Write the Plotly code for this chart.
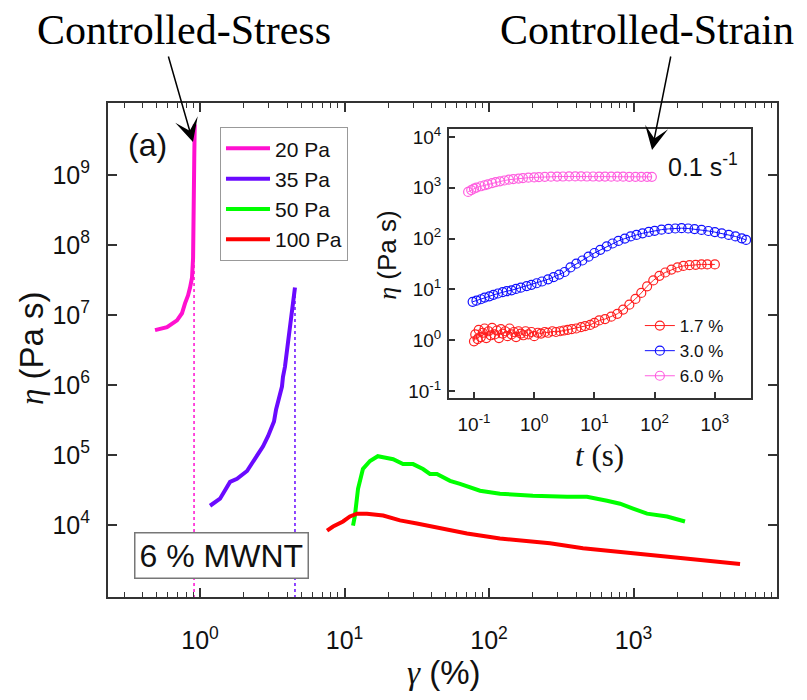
import plotly.graph_objects as go

# ---------------- main panel data (controlled stress) ----------------
strain_20 = [0.488, 0.591, 0.693, 0.750, 0.787, 0.826, 0.853, 0.880, 0.895, 0.897, 0.905, 0.912, 0.918, 0.920]
eta_20 = [6.07e6, 6.7e6, 8.4e6, 1.06e7, 1.47e7, 1.9e7, 2.47e7, 3.42e7, 6.57e7, 2.0e8, 5.85e8, 1.72e9, 4.57e9, 5.3e9]

strain_35 = [1.173, 1.375, 1.613, 1.803, 2.115, 2.48, 2.73, 2.955, 3.15, 3.25, 3.36, 3.47, 3.69, 3.75, 3.87, 4.06, 4.20, 4.33, 4.40, 4.54]
eta_35 = [1.88e4, 2.37e4, 4.12e4, 4.55e4, 5.9e4, 9.6e4, 1.33e5, 1.85e5, 2.56e5, 3.0e5, 4.47e5, 5.6e5, 9.5e5, 1.31e6, 1.82e6, 4.0e6, 6.7e6, 1.17e7, 1.62e7, 2.47e7]

strain_50 = [11.45, 11.8, 12.4, 13.4, 15.0, 17.0, 18.5, 21.7, 25.4, 29.8, 34.9, 39.0, 43.6, 53.7, 63, 86.6, 119, 201, 347, 476, 656, 807, 993, 1240, 1706, 2271]
eta_50 = [9.8e3, 1.36e4, 3.29e4, 6.3e4, 8.2e4, 9.6e4, 9.3e4, 8.7e4, 7.4e4, 7.4e4, 6.3e4, 5.36e4, 5.36e4, 4.27e4, 3.87e4, 3.08e4, 2.79e4, 2.61e4, 2.53e4, 2.53e4, 2.22e4, 2.01e4, 1.71e4, 1.45e4, 1.32e4, 1.12e4]

strain_100 = [7.57, 8.33, 9.76, 10.9, 12.2, 14.3, 18.5, 24.2, 31.7, 41, 53.7, 70.4, 119, 264, 447, 687, 993, 2200, 3785, 5460]
eta_100 = [8.3e3, 9.5e3, 1.12e4, 1.32e4, 1.45e4, 1.45e4, 1.36e4, 1.16e4, 1.05e4, 9.5e3, 8.3e3, 7.55e3, 6.4e3, 5.46e3, 4.63e3, 4.2e3, 3.94e3, 3.34e3, 3.03e3, 2.76e3]

critical_strain = [0.909, 4.54]          # dotted verticals (20 Pa, 35 Pa)
critical_top = [5.3e9, 2.47e7]
axis_floor = 9.0e2

series_names = ["20 Pa", "35 Pa", "50 Pa", "100 Pa"]
series_colors = ["#ff10d0", "#6a0aff", "#00ff00", "#ff0000"]

# ---------------- inset data (controlled strain, 0.1 s^-1) ----------------
t_17 = [0.10, 0.105, 0.115, 0.12, 0.13, 0.14, 0.15, 0.16, 0.175, 0.19, 0.2, 0.22, 0.24, 0.26, 0.28, 0.3, 0.33, 0.36, 0.39, 0.42, 0.46, 0.5, 0.55, 0.6, 0.66, 0.72, 0.8, 0.9, 1.0, 1.15, 1.3, 1.5, 1.7, 2.0, 2.3, 2.7, 3.1, 3.6, 4.2, 5, 6, 7, 8.5, 10, 12, 15, 19, 24, 30, 38, 48, 60, 75, 95, 120, 150, 190, 240, 300, 380, 480, 600, 750, 1000]
eta_17 = [0.95, 1.3, 1.05, 1.6, 1.15, 1.4, 1.7, 1.1, 1.5, 1.25, 1.75, 1.3, 1.55, 1.1, 1.65, 1.35, 1.5, 1.2, 1.7, 1.3, 1.45, 1.15, 1.5, 1.35, 1.25, 1.5, 1.3, 1.45, 1.2, 1.4, 1.35, 1.45, 1.4, 1.5, 1.45, 1.5, 1.55, 1.6, 1.65, 1.7, 1.8, 1.9, 2.0, 2.2, 2.45, 2.6, 2.9, 3.3, 4.0, 5.0, 6.5, 8.5, 11.5, 15, 18.5, 21.5, 24.5, 27, 29, 30, 30.5, 31, 31, 31]

t_30 = [0.095, 0.11, 0.13, 0.15, 0.18, 0.21, 0.25, 0.3, 0.35, 0.42, 0.5, 0.6, 0.75, 0.9, 1.1, 1.35, 1.7, 2.1, 2.6, 3.2, 4, 5, 6.3, 8, 10, 12.5, 16, 20, 25, 32, 40, 50, 63, 80, 100, 130, 170, 220, 280, 360, 460, 600, 780, 1000, 1300, 1700, 2200, 2800, 3300]
eta_30 = [5.7, 6.0, 6.4, 6.9, 7.3, 7.8, 8.3, 8.8, 9.2, 9.6, 10.2, 10.8, 11.6, 12.3, 13.2, 14.3, 15.8, 17.5, 19.6, 22, 27, 32, 37, 44, 52, 60, 70, 80, 90, 100, 110, 118, 127, 135, 142, 150, 155, 158, 160, 158, 154, 148, 141, 134, 126, 118, 110, 101, 94]

t_60 = [0.08, 0.09, 0.10, 0.11, 0.13, 0.15, 0.17, 0.2, 0.23, 0.27, 0.32, 0.38, 0.45, 0.55, 0.65, 0.8, 1.0, 1.2, 1.5, 1.9, 2.4, 3.0, 3.8, 4.8, 6, 7.5, 9.5, 12, 15, 19, 24, 30, 38, 48, 60, 75, 90]
eta_60 = [830, 900, 960, 1010, 1070, 1120, 1170, 1230, 1290, 1340, 1390, 1440, 1480, 1520, 1550, 1580, 1600, 1620, 1640, 1650, 1660, 1665, 1670, 1670, 1670, 1665, 1665, 1660, 1660, 1655, 1650, 1650, 1645, 1640, 1640, 1640, 1640]

inset_names = ["1.7 %", "3.0 %", "6.0 %"]
inset_colors = ["#ff2020", "#1010ff", "#ff5fe0"]

# ---------------- tick labels ----------------
main_x_tickvals = [1, 10, 100, 1000]
main_x_ticktext = ["10<sup>0</sup>", "10<sup>1</sup>", "10<sup>2</sup>", "10<sup>3</sup>"]
main_y_tickvals = [1e4, 1e5, 1e6, 1e7, 1e8, 1e9]
main_y_ticktext = ["10<sup>4</sup>", "10<sup>5</sup>", "10<sup>6</sup>", "10<sup>7</sup>", "10<sup>8</sup>", "10<sup>9</sup>"]
inset_x_tickvals = [0.1, 1, 10, 100, 1000]
inset_x_ticktext = ["10<sup>-1</sup>", "10<sup>0</sup>", "10<sup>1</sup>", "10<sup>2</sup>", "10<sup>3</sup>"]
inset_y_tickvals = [0.1, 1, 10, 100, 1000, 10000]
inset_y_ticktext = ["10<sup>-1</sup>", "10<sup>0</sup>", "10<sup>1</sup>", "10<sup>2</sup>", "10<sup>3</sup>", "10<sup>4</sup>"]

SANS = "Liberation Sans, Arial, sans-serif"
SERIF = "Liberation Serif, Times New Roman, serif"
FRAME = "#333333"

fig = go.Figure()

main_x = [strain_20, strain_35, strain_50, strain_100]
main_y = [eta_20, eta_35, eta_50, eta_100]

# dotted critical-strain lines
for xc, top, col in zip(critical_strain, critical_top, series_colors[:2]):
    fig.add_trace(go.Scatter(x=[xc, xc], y=[axis_floor, top], mode="lines",
                             line=dict(color=col, width=1.5, dash="dot"),
                             showlegend=False, hoverinfo="skip"))

for xs, ys, name, col in zip(main_x, main_y, series_names, series_colors):
    fig.add_trace(go.Scatter(x=xs, y=ys, mode="lines", name=name,
                             line=dict(color=col, width=4), legend="legend"))

inset_x = [t_17, t_30, t_60]
inset_y = [eta_17, eta_30, eta_60]
for xs, ys, name, col in zip(inset_x, inset_y, inset_names, inset_colors):
    fig.add_trace(go.Scatter(x=xs, y=ys, mode="lines+markers", name=name,
                             xaxis="x2", yaxis="y2", legend="legend2",
                             line=dict(color=col, width=1),
                             marker=dict(symbol="circle-open", size=9, color=col,
                                         line=dict(width=1.2, color=col))))

common_axis = dict(showline=True, linecolor=FRAME, linewidth=2, showgrid=False,
                   zeroline=False, ticks="inside", tickcolor=FRAME, tickwidth=1.5,
                   automargin=False)

fig.update_layout(
    width=807, height=700,
    margin=dict(l=108, r=30, t=103, b=103, autoexpand=False),
    paper_bgcolor="white", plot_bgcolor="white",
    showlegend=True,
    xaxis=dict(type="log", range=[-0.637, 3.993], mirror="ticks",
               tickmode="array", tickvals=main_x_tickvals, ticktext=main_x_ticktext,
               ticklen=9, ticklabelstandoff=20,
               tickfont=dict(family=SANS, size=25, color="#111"),
               minor=dict(ticks="inside", ticklen=5, dtick="D1", tickcolor=FRAME, tickwidth=1.2, showgrid=False),
               **common_axis),
    yaxis=dict(type="log", range=[2.97, 10.03], mirror="ticks",
               tickmode="array", tickvals=main_y_tickvals, ticktext=main_y_ticktext,
               ticklen=9, ticklabelstandoff=11,
               tickfont=dict(family=SANS, size=25, color="#111"),
               **common_axis),
    xaxis2=dict(type="log", range=[-1.415, 3.6], domain=[0.5097, 0.9611], anchor="y2", mirror=True,
                tickmode="array", tickvals=inset_x_tickvals, ticktext=inset_x_ticktext,
                ticklen=6, ticklabelstandoff=8,
                tickfont=dict(family=SANS, size=19, color="#111"),
                **common_axis),
    yaxis2=dict(type="log", range=[-1.138, 4.157], domain=[0.4028, 0.9474], anchor="x2", mirror=True,
                tickmode="array", tickvals=inset_y_tickvals, ticktext=inset_y_ticktext,
                ticklen=6, ticklabelstandoff=2,
                tickfont=dict(family=SANS, size=19, color="#111"),
                **common_axis),
    legend=dict(x=0.1674, y=0.951, xanchor="left", yanchor="top",
                bordercolor="#999999", borderwidth=1, bgcolor="white", itemwidth=44,
                font=dict(family=SANS, size=21, color="#111"), tracegroupgap=0),
    legend2=dict(x=0.795, y=0.585, xanchor="left", yanchor="top",
                 borderwidth=0, bgcolor="rgba(0,0,0,0)",
                 font=dict(family=SANS, size=17, color="#111"), tracegroupgap=0),
)

annotations = [
    # axis titles
    dict(x=-0.1151, y=0.504, text="<span style='font-family:Liberation Serif'><i>η</i></span> (Pa s)",
         textangle=-90, font=dict(family=SANS, size=33, color="#111")),
    dict(x=0.5022, y=-0.153, text="<span style='font-family:Liberation Serif'><i>γ</i></span> (%)",
         font=dict(family=SANS, size=33, color="#111")),
    dict(x=0.418, y=0.692, text="<span style='font-family:Liberation Serif'><i>η</i></span> (Pa s)",
         textangle=-90, font=dict(family=SANS, size=26, color="#111")),
    dict(x=0.7354, y=0.2874, text="<i>t</i> (s)", font=dict(family=SERIF, size=31, color="#111")),
    # labels
    dict(x=0.0583, y=0.915, text="(a)", font=dict(family=SANS, size=32, color="#111")),
    dict(x=0.889, y=0.8745, text="0.1 s<sup>-1</sup>", font=dict(family=SANS, size=25, color="#111")),
    dict(x=0.1704, y=0.083, text="6 % MWNT", font=dict(family=SANS, size=32, color="#111"),
         bordercolor="#777777", borderwidth=1.5, borderpad=4, bgcolor="white"),
    dict(x=0.1136, y=1.1478, text="Controlled-Stress", font=dict(family=SERIF, size=42, color="#000")),
    dict(x=0.8057, y=1.1478, text="Controlled-Strain", font=dict(family=SERIF, size=42, color="#000")),
]
for a in annotations:
    a.update(xref="paper", yref="paper", showarrow=False, xanchor="center", yanchor="middle")

arrows = [
    dict(x=0.127, y=0.921, ax=-25, ay=-87),
    dict(x=0.8132, y=0.9049, ax=19, ay=-95),
]
for a in arrows:
    a.update(xref="paper", yref="paper", text="", showarrow=True, arrowhead=3,
             arrowsize=2.6, arrowwidth=1.5, arrowcolor="#000", standoff=0)
    annotations.append(a)

fig.update_layout(annotations=annotations)

fig.write_html("out.html", config={"displayModeBar": False},
               post_script="document.body.style.margin='0px';document.body.style.overflow='hidden';")
